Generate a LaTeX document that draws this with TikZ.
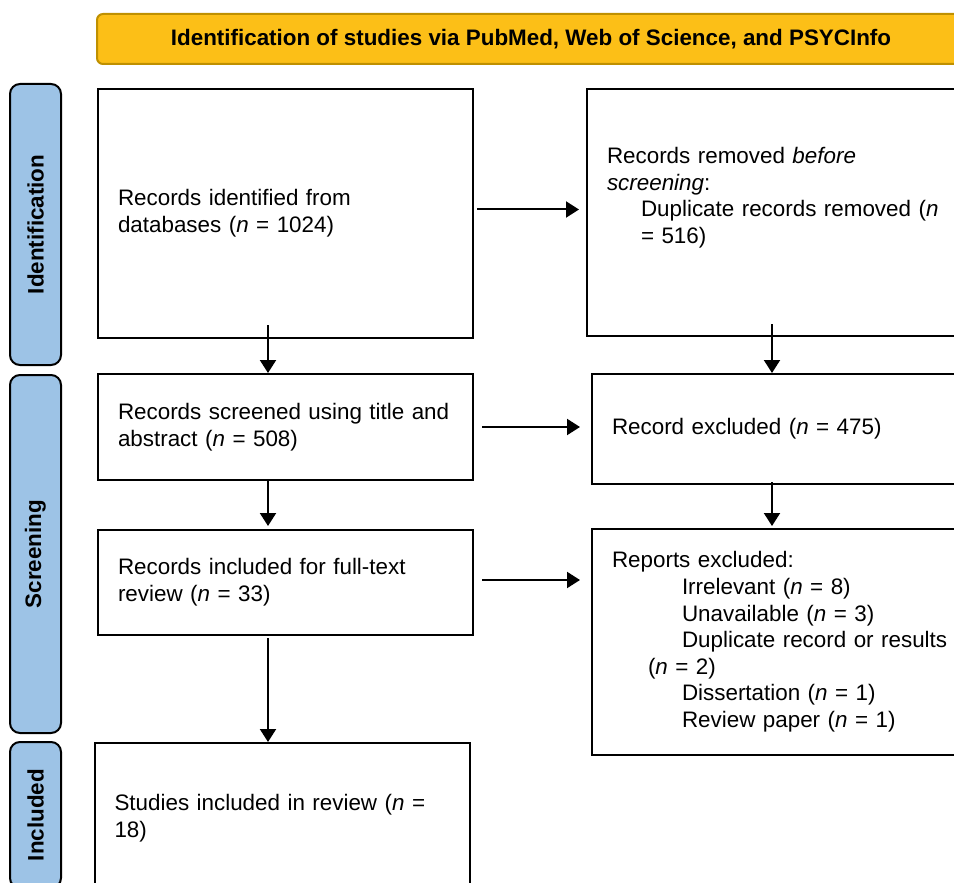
\documentclass[tikz,border=0pt]{standalone}
\usepackage{fontspec}
\setmainfont{Liberation Sans}
\usepackage{xcolor}
\definecolor{prismaGold}{HTML}{FCBF17}
\definecolor{prismaGoldEdge}{HTML}{BF9000}
\definecolor{prismaBlue}{HTML}{9DC3E6}
\usetikzlibrary{arrows.meta}

\begin{document}
\begin{tikzpicture}[x=0.5pt, y=-0.5pt,
  every node/.style={font=\fontsize{11.2}{13.3}\selectfont},
  flowBox/.style={rectangle, draw, line width=1pt, align=left, inner xsep=10pt, inner ysep=0pt},
  phaseTag/.style={rectangle, draw, line width=1pt, rounded corners=5pt, fill=prismaBlue, rotate=90,
    minimum height=25.5pt, font=\fontsize{11.2}{13}\selectfont\bfseries},
  flowArrow/.style={line width=1pt, -{Triangle[length=6.5pt, width=8pt]}}]
  \clip (0,0) rectangle (954,883);

  \node[rectangle, draw=prismaGoldEdge, line width=1pt, rounded corners=3pt, fill=prismaGold,
    minimum width=434pt, minimum height=25pt, font=\fontsize{11.2}{13}\selectfont\bfseries]
    (banner) at (531,39) {Identification of studies via PubMed, Web of Science, and PSYCInfo};

  \node[phaseTag, minimum width=140.5pt] (tagIdent) at (35.5,224.5) {Identification};
  \node[phaseTag, minimum width=179pt] (tagScreen) at (35.5,554) {Screening};
  \node[phaseTag, minimum width=73pt] (tagIncl) at (35.5,815) {Included};

  \node[flowBox, text width=167.5pt, minimum height=124.5pt] (idbox) at (285.5,213.5)
    {Records identified from\\ databases (\textit{n} = 1024)};
  \node[flowBox, text width=167.5pt, minimum height=53pt] (screen) at (285.5,427)
    {Records screened using title and\\ abstract (\textit{n} = 508)};
  \node[flowBox, text width=167.5pt, minimum height=52.5pt] (fulltext) at (285.5,582.5)
    {Records included for full-text\\ review (\textit{n} = 33)};
  \node[flowBox, text width=167.5pt, minimum height=75pt] (included) at (282,818)
    {Studies included in review (\textit{n} =\\ 18)};

  \node[flowBox, anchor=west, text width=200pt, minimum height=123.5pt] (removed) at (586,212.5)
    {Records removed \textit{before}\\ \textit{screening}:\\
     \hspace*{17pt}Duplicate records removed (\textit{n}\\ \hspace*{17pt}= 516)\\ \strut};
  \node[flowBox, anchor=west, text width=200pt, minimum height=55pt] (excl) at (591,429)
    {Record excluded (\textit{n} = 475)};
  \node[flowBox, anchor=west, text width=200pt, minimum height=113pt] (reports) at (591,642)
    {Reports excluded:\\
     \hspace*{35pt}Irrelevant (\textit{n} = 8)\\
     \hspace*{35pt}Unavailable (\textit{n} = 3)\\
     \hspace*{35pt}Duplicate record or results\\
     \hspace*{18pt}(\textit{n} = 2)\\
     \hspace*{35pt}Dissertation (\textit{n} = 1)\\
     \hspace*{35pt}Review paper (\textit{n} = 1)};

  \coordinate (leftLane) at (268,0);
  \coordinate (rightLane) at (772,0);

  \draw[flowArrow, shorten <=1.5pt, shorten >=3.5pt] ([yshift=2pt]idbox.east) -- ([yshift=2pt]idbox.east -| removed.west);
  \draw[flowArrow, shorten <=4pt, shorten >=5.5pt] (screen.east) -- (screen.east -| excl.west);
  \draw[flowArrow, shorten <=4pt, shorten >=5.5pt] ([yshift=1.25pt]fulltext.east) -- ([yshift=1.25pt]fulltext.east -| reports.west);

  \draw[flowArrow] ([yshift=7pt]leftLane |- idbox.south) -- (leftLane |- screen.north);
  \draw[flowArrow, shorten >=1.5pt] (leftLane |- screen.south) -- (leftLane |- fulltext.north);
  \draw[flowArrow, shorten <=1pt] (leftLane |- fulltext.south) -- (leftLane |- included.north);
  \draw[flowArrow] ([yshift=6.5pt]rightLane |- removed.south) -- (rightLane |- excl.north);
  \draw[flowArrow, shorten >=1pt] ([yshift=1.5pt]rightLane |- excl.south) -- (rightLane |- reports.north);
\end{tikzpicture}
\end{document}
